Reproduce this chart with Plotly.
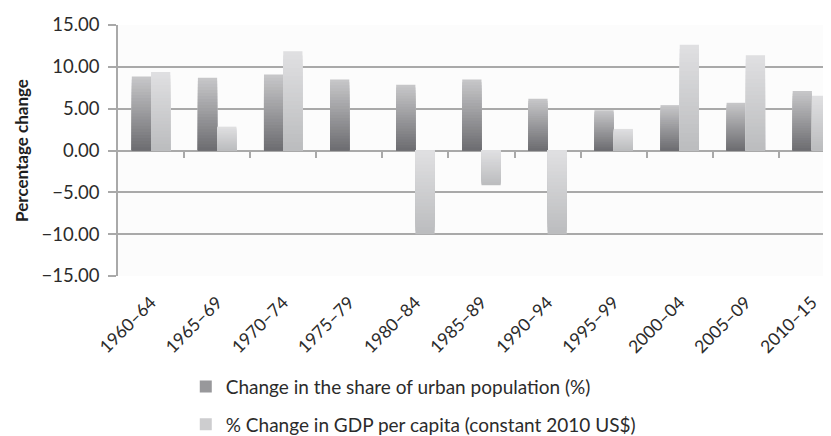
import plotly.graph_objects as go

# ---- data ----
periods = ["1960–64", "1965–69", "1970–74", "1975–79", "1980–84", "1985–89",
           "1990–94", "1995–99", "2000–04", "2005–09", "2010–15"]
urban_change = [8.85, 8.69, 9.08, 8.50, 7.85, 8.50, 6.19, 4.81, 5.42, 5.70, 7.12]
gdp_change = [9.39, 2.85, 11.85, 0.0, -10.0, -4.15, -10.0, 2.58, 12.65, 11.38, 6.54]

y_ticks = [-15, -10, -5, 0, 5, 10, 15]

FONT = "Lato"
GRID = "#a9a9a9"
TXT = "#2b2b2b"
N_LAYERS = 24   # bands used to fake the Excel-style vertical gradient


def mix(c1, c2, t):
    # t=0 -> c1 (bottom colour), t=1 -> c2 (top colour)
    a = [int(c1[i:i + 2], 16) for i in (1, 3, 5)]
    b = [int(c2[i:i + 2], 16) for i in (1, 3, 5)]
    return "rgb(%d,%d,%d)" % tuple(round(x + (y - x) * t) for x, y in zip(a, b))


def add_gradient_bars(fig, values, name, group, bottom, top, legend_layer):
    for i in range(N_LAYERS):
        f = (N_LAYERS - i) / N_LAYERS
        pos = (N_LAYERS - i - 0.5) / N_LAYERS   # band position measured from zero
        cols = [mix(bottom, top, pos if v >= 0 else 1 - pos) for v in values]
        fig.add_trace(go.Bar(
            x=periods, y=[v * f for v in values], name=name,
            offsetgroup=group, legendgroup=group,
            showlegend=(i == legend_layer), hoverinfo="skip" if i else None,
            marker=dict(color=cols, line=dict(width=0)),
        ))


fig = go.Figure()
add_gradient_bars(fig, urban_change, "Change in the share of urban population (%)",
                  "a", "#6c6c70", "#c8c8ca", 12)
add_gradient_bars(fig, gdp_change, "% Change in GDP per capita (constant 2010 US$)",
                  "b", "#bbbcbe", "#e0e0e2", 12)

# invisible trace so the second x axis (tick marks on the zero line) is drawn
fig.add_trace(go.Scatter(x=[0], y=[0], xaxis="x2", mode="markers",
                         marker=dict(opacity=0), showlegend=False, hoverinfo="skip"))

fig.update_layout(
    width=831, height=436,
    margin=dict(l=110, r=0, t=17, b=159),
    paper_bgcolor="white", plot_bgcolor="#fcfcfc",
    barmode="group", bargap=0.418, bargroupgap=0,
    font=dict(family=FONT, size=18, color=TXT),
    showlegend=True,
    legend=dict(x=0.094, y=-0.365, xanchor="left", yanchor="top",
                orientation="v", tracegroupgap=10,
                font=dict(family=FONT, size=19, color=TXT)),
    xaxis=dict(type="category", range=[-0.5, 10.41], showgrid=False,
               showline=False, ticks="", tickangle=-45, automargin=False,
               ticklabelstandoff=12,
               tickfont=dict(family=FONT, size=17.5, color=TXT)),
    xaxis2=dict(overlaying="x", anchor="free", position=0.5, range=[-0.5, 10.41],
                tickvals=[i + 0.5 for i in range(len(periods))],
                ticks="outside", ticklen=6, tickwidth=1.5, tickcolor=GRID,
                showticklabels=False, showgrid=False, showline=False, zeroline=False),
    yaxis=dict(range=[-15, 15], tickvals=y_ticks, tickformat=".2f", automargin=False,
               showgrid=True, gridcolor=GRID, gridwidth=1.5,
               zeroline=True, zerolinecolor=GRID, zerolinewidth=1.5,
               showline=True, linecolor=GRID, linewidth=1.5,
               ticks="outside", ticklen=8, tickwidth=1.5, tickcolor=GRID,
               ticklabelstandoff=5,
               tickfont=dict(family=FONT, size=18.5, color=TXT),
               title=dict(text="<b>Percentage change</b>", standoff=9,
                          font=dict(family=FONT, size=17, color="#1e1e1e"))),
)

fig.write_html("out.html")
